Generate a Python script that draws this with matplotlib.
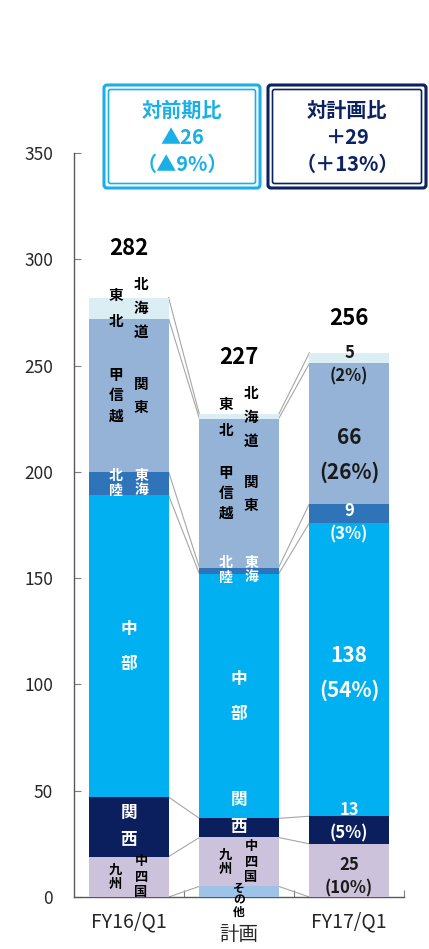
import matplotlib
matplotlib.use("Agg")
import matplotlib.pyplot as plt
from matplotlib.patches import FancyBboxPatch
import numpy as np

plt.rcParams['font.family'] = ['Noto Sans CJK JP', 'DejaVu Sans']

# sales by region, bottom segment first
periods = ["FY16/Q1", "計画", "FY17/Q1"]
other = [0, 5, 0]
kyushu = [19, 23, 25]
kansai = [28, 9, 13]
chubu = [142, 115, 138]
hokuriku = [11, 3, 9]
kanto = [72, 70, 66]
tohoku = [10, 2, 5]
fy17_share = [None, 10, 5, 54, 3, 26, 2]

segments = [other, kyushu, kansai, chubu, hokuriku, kanto, tohoku]
colors = ["#9DC3E6", "#CCC2DB", "#0B1F5E", "#00B0F0", "#2F74B8", "#95B3D7", "#DAEEF3"]

# region names: (left column, right column, text colour)
names = [
    (None, "その他", "black"),
    ("九州", "中四国", "black"),
    (None, "関西", "white"),
    (None, "中部", "white"),
    ("北陸", "東海", "white"),
    ("甲信越", "関東", "black"),
    ("東北", "北海道", "black"),
]
# gap between stacked characters in pixels: (left, right), and font size
char_gap = [(12, 12), (14.5, 15.5), (27, 27), (35, 35), (15.5, 15.5), (20, 23), (26, 24)]
char_size = [8.5, 9.5, 12, 12, 10, 10.5, 10.5]

W, H = 429, 949
fig = plt.figure(figsize=(W / 100, H / 100), dpi=100)
ax = fig.add_axes([74 / W, 52 / H, 330 / W, 744 / H])
ax.set_xlim(-0.5, 2.5)
ax.set_ylim(0, 350)
px = 350 / 744  # data units per pixel on the y axis

x = np.arange(len(periods))
bw = 0.72
data = np.array(segments, dtype=float)
bottoms = np.vstack([np.zeros(len(periods)), np.cumsum(data, axis=0)[:-1]])
tops = np.cumsum(data, axis=0)
totals = tops[-1]

for vals, bot, c in zip(data, bottoms, colors):
    ax.bar(x, vals, bw, bottom=bot, color=c, edgecolor="none", zorder=3)

# connector lines between neighbouring bars
for lvl in tops:
    for i in range(len(periods) - 1):
        ax.plot([x[i] + bw / 2, x[i + 1] - bw / 2], [lvl[i], lvl[i + 1]],
                color="#A6A6A6", lw=0.8, zorder=2, clip_on=False)


def stack(xp, yc, parts, gap, **kw):
    n = len(parts)
    for m, p in enumerate(parts):
        ax.text(xp, yc + ((n - 1) / 2 - m) * gap * px, p, ha="center", va="center",
                zorder=5, **kw)


# region names written vertically on the first two bars
nudge = {(1, 2): 7, (1, 0): -4}
for i in (0, 1):
    for k, (left, right, tc) in enumerate(names):
        if data[k, i] == 0:
            continue
        ym = bottoms[k, i] + data[k, i] / 2 + nudge.get((i, k), 0)
        gl, gr = char_gap[k]
        fs = char_size[k]
        if left is None:
            stack(x[i], ym, list(right), gr, color=tc, fontsize=fs, fontweight="bold")
        else:
            stack(x[i] - 0.12, ym, list(left), gl, color=tc, fontsize=fs, fontweight="bold")
            stack(x[i] + 0.11, ym, list(right), gr, color=tc, fontsize=fs, fontweight="bold")

# values and shares on the last bar
j = 2
lab_nudge = {6: -3, 5: -10, 4: -4.5, 3: -1.5, 2: 4, 1: -3}
for k in range(1, len(segments)):
    v = data[k, j]
    ym = bottoms[k, j] + v / 2 + lab_nudge.get(k, 0)
    tc = "white" if k in (2, 3, 4) else "#1A1A1A"
    big = k in (3, 5)
    stack(x[j], ym, [f"{int(v)}", f"({fy17_share[k]}%)"], 35 if big else 23,
          color=tc, fontsize=15 if big else 12, fontweight="bold")

total_off = [23, 27, 16]
for xi, t, off in zip(x, totals, total_off):
    ax.text(xi, t + off, f"{int(t)}", ha="center", va="center", fontsize=16,
            fontweight="bold", color="black", zorder=5)

# category names under the axis
label_drop = [25, 37, 25]
for xi, name, d in zip(x, periods, label_drop):
    ax.text(xi, -d / 744, name, transform=ax.get_xaxis_transform(), ha="center",
            va="center", fontsize=14, color="#262626")

ax.set_yticks(range(0, 351, 50))
ax.set_xticks([0.5, 1.5, 2.5])
ax.set_xticklabels([])
ax.tick_params(axis="x", direction="in", length=5, color="#7F7F7F")
ax.tick_params(axis="y", direction="in", length=5, color="#7F7F7F",
               labelsize=12.5, labelcolor="#262626", pad=15)
for sp in ("top", "right"):
    ax.spines[sp].set_visible(False)
for sp in ("left", "bottom"):
    ax.spines[sp].set_color("#595959")
    ax.spines[sp].set_linewidth(1)

# comparison boxes above the chart
ov = fig.add_axes([0, 0, 1, 1], zorder=10)
ov.set_xlim(0, W)
ov.set_ylim(H, 0)
ov.axis("off")

boxes = [
    (104, 85, 156, 103, "#1AAFE6", ["対前期比", "▲26", "（▲9%）"]),
    (268, 85, 158, 103, "#0B2160", ["対計画比", "＋29", "（＋13%）"]),
]
for bx, by, bwid, bh, c, lines in boxes:
    ov.add_patch(FancyBboxPatch((bx, by), bwid, bh, boxstyle="round,pad=0,rounding_size=3",
                                fill=False, ec=c, lw=2.2))
    ov.add_patch(FancyBboxPatch((bx + 4.5, by + 4.5), bwid - 9, bh - 9,
                                boxstyle="round,pad=0,rounding_size=2",
                                fill=False, ec=c, lw=1.2))
    for n, s in enumerate(lines):
        ov.text(bx + bwid / 2, by + 25 + n * 27, s, ha="center", va="center",
                color=c, fontsize=14.5, fontweight="bold")

fig.savefig("out.png", dpi=100)
